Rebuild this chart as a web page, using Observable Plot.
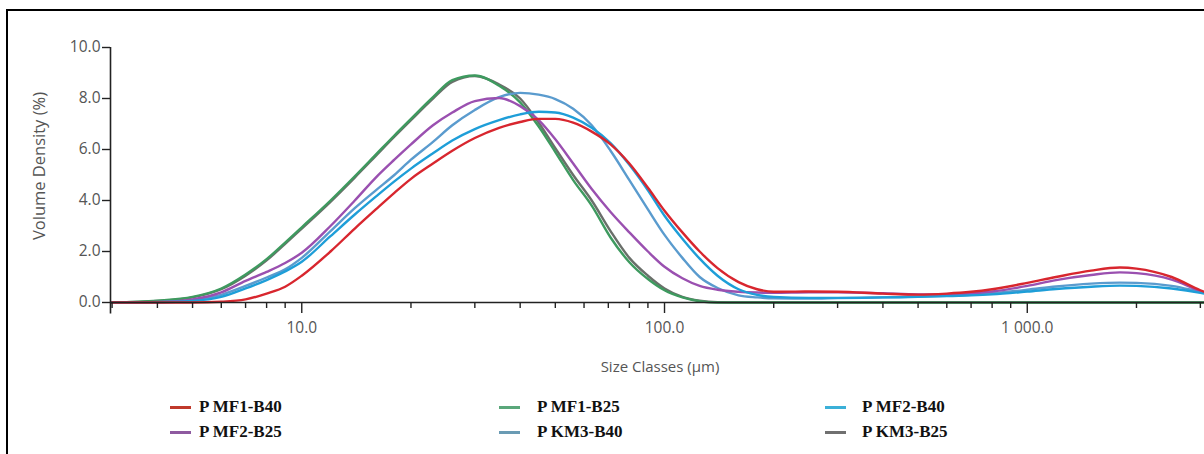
<!DOCTYPE html>
<html><head><meta charset="utf-8">
<script src="https://cdn.jsdelivr.net/npm/d3@7"></script>
<script src="https://cdn.jsdelivr.net/npm/@observablehq/plot@0.6"></script>
<style>
body{margin:0;background:#fff;width:1204px;height:454px;overflow:hidden;position:relative;font-family:"Open Sans",sans-serif}
#frame{position:absolute;left:6px;top:9px;width:1300px;height:500px;border-top:2px solid #000;border-left:2px solid #000}
#chart{position:absolute;left:0;top:0}
#ylabel{position:absolute;left:38px;top:166px;transform:translate(-50%,-50%) rotate(-90deg);font-size:16.5px;color:#555;white-space:nowrap}
#xlabel{position:absolute;left:660px;top:366px;transform:translate(-50%,-50%);font-size:15px;color:#555;white-space:nowrap}
.item{position:absolute;font-family:"Liberation Serif",serif;font-weight:bold;font-size:17px;color:#111;white-space:nowrap;line-height:20px}
.sw{position:absolute;width:21px;height:3px}
</style></head>
<body>
<div id="frame"></div>
<div id="chart"></div>
<div id="ylabel">Volume Density (%)</div>
<div id="xlabel">Size Classes (µm)</div>
<div id="legend"></div>
<script>
// size classes (µm)
const sizes = [3, 4, 5, 6, 7, 8, 9, 10, 12, 14, 16, 18, 20, 23, 26, 30, 35, 40, 45, 50, 56, 63, 71, 80, 90, 100, 112, 125, 140, 160, 180, 200, 250, 300, 400, 500, 600, 700, 800, 1000, 1200, 1500, 1800, 2000, 2500, 3000, 3100];
const seriesNames = ["P MF1-B40", "P MF1-B25", "P MF2-B40", "P MF2-B25", "P KM3-B40", "P KM3-B25"];
const seriesColors = ["#d8262e", "#3e9a5f", "#1e9ed8", "#9a50b0", "#5a9bce", "#6a6f6a"];
const legendColors = ["#c0392b", "#5aa77a", "#3bb0d8", "#8e5aa0", "#6a9bb4", "#707070"];
// volume density (%)
const mf1b40 = [0, 0, 0, 0.03, 0.12, 0.35, 0.62, 1.05, 2.0, 2.9, 3.65, 4.3, 4.85, 5.45, 5.95, 6.45, 6.85, 7.08, 7.2, 7.2, 7.05, 6.7, 6.2, 5.45, 4.5, 3.6, 2.75, 2.0, 1.35, 0.8, 0.52, 0.42, 0.43, 0.42, 0.35, 0.31, 0.35, 0.42, 0.52, 0.77, 1.0, 1.25, 1.37, 1.33, 1.0, 0.48, 0.4];
const mf1b25 = [0, 0.07, 0.22, 0.55, 1.1, 1.7, 2.35, 2.95, 4.0, 4.95, 5.8, 6.55, 7.2, 8.05, 8.72, 8.9, 8.5, 7.85, 6.9, 5.9, 4.8, 3.8, 2.55, 1.58, 0.92, 0.48, 0.2, 0.05, 0, 0, 0, 0, 0, 0, 0, 0, 0, 0, 0, 0, 0, 0, 0, 0, 0, 0, 0];
const mf2b40 = [0, 0.01, 0.06, 0.22, 0.55, 0.88, 1.22, 1.6, 2.6, 3.45, 4.15, 4.75, 5.25, 5.85, 6.35, 6.8, 7.15, 7.38, 7.48, 7.45, 7.25, 6.85, 6.25, 5.4, 4.4, 3.4, 2.5, 1.72, 1.05, 0.52, 0.3, 0.22, 0.18, 0.18, 0.2, 0.22, 0.25, 0.28, 0.32, 0.43, 0.53, 0.62, 0.66, 0.65, 0.55, 0.38, 0.34];
const mf2b25 = [0, 0.02, 0.12, 0.4, 0.85, 1.2, 1.55, 1.95, 3.0, 4.0, 4.9, 5.6, 6.2, 6.95, 7.45, 7.9, 8.02, 7.7, 7.15, 6.4, 5.45, 4.45, 3.55, 2.75, 2.0, 1.4, 0.95, 0.65, 0.5, 0.42, 0.39, 0.38, 0.4, 0.4, 0.36, 0.32, 0.32, 0.36, 0.43, 0.65, 0.88, 1.08, 1.18, 1.15, 0.9, 0.45, 0.38];
const km3b40 = [0, 0.01, 0.08, 0.3, 0.65, 0.98, 1.3, 1.75, 2.8, 3.7, 4.4, 5.0, 5.6, 6.3, 6.95, 7.55, 8.05, 8.22, 8.15, 7.98, 7.6, 6.95, 5.95, 4.8, 3.65, 2.65, 1.75, 1.0, 0.57, 0.28, 0.2, 0.16, 0.15, 0.17, 0.2, 0.23, 0.26, 0.3, 0.36, 0.5, 0.63, 0.74, 0.78, 0.77, 0.65, 0.42, 0.38];
const km3b25 = [0, 0.06, 0.2, 0.52, 1.05, 1.65, 2.3, 2.9, 3.95, 4.9, 5.75, 6.5, 7.15, 8.0, 8.65, 8.88, 8.55, 8.0, 7.05, 6.05, 5.0, 4.0, 2.8, 1.75, 1.05, 0.55, 0.22, 0.07, 0.01, 0, 0, 0, 0, 0, 0, 0, 0, 0, 0, 0, 0, 0, 0, 0, 0, 0, 0];
const minorTicks = [3, 4, 5, 6, 7, 8, 9, 20, 30, 40, 50, 60, 70, 80, 90, 200, 300, 400, 500, 600, 700, 800, 900, 2000, 3000];
const majorTicks = [10, 100, 1000];
const majorLabels = ["10.0", "100.0", "1 000.0"];
const yTicks = [0, 2, 4, 6, 8, 10];

const allSeries = [mf1b40, mf1b25, mf2b40, mf2b25, km3b40, km3b25];
const data = [];
allSeries.forEach((vals, i) => vals.forEach((v, j) => data.push({size: sizes[j], value: v, series: seriesNames[i]})));
// draw order: back to front
const order = ["P KM3-B25", "P MF1-B25", "P KM3-B40", "P MF2-B25", "P MF2-B40", "P MF1-B40"];
const xDom = [2.97, 3080];

const chart = Plot.plot({
  width: 1204, height: 345,
  marginLeft: 110, marginRight: 0, marginTop: 47, marginBottom: 43,
  style: {fontFamily: "Open Sans, sans-serif", fontSize: "15.5px", background: "transparent"},
  x: {type: "log", domain: xDom, axis: null},
  y: {domain: [0, 10], axis: null},
  color: {domain: seriesNames, range: seriesColors},
  marks: [
    ...order.map(name => Plot.line(data.filter(d => d.series === name), {x: "size", y: "value", stroke: "series", strokeWidth: 2.4, curve: "monotone-x"})),
    Plot.ruleY([0], {x1: xDom[0], x2: xDom[1], stroke: "#222", strokeWidth: 1.6}),
    Plot.ruleX([xDom[0]], {y1: -0.45, y2: 10, stroke: "#222", strokeWidth: 1.6}),
    Plot.axisX({ticks: minorTicks, tickSize: 6, tickFormat: () => "", label: null, stroke: "#222", strokeWidth: 1.4}),
    Plot.axisX({ticks: majorTicks, tickSize: 11, tickFormat: d => majorLabels[majorTicks.indexOf(d)], stroke: "#222", fill: "#555", strokeWidth: 1.4, tickPadding: 8, label: null}),
    Plot.axisY({ticks: yTicks, tickSize: 8, tickFormat: d => d.toFixed(1), stroke: "#222", fill: "#555", strokeWidth: 1.4, tickPadding: 2, label: null})
  ]
});
document.getElementById("chart").appendChild(chart);

const legend = document.getElementById("legend");
const swX = [170, 499, 825];
const txX = [199, 537, 862];
const rowY = [397, 422];
seriesNames.forEach((name, i) => {
  const c = i % 3, r = Math.floor(i / 3);
  const sw = document.createElement("div");
  sw.className = "sw";
  sw.style.left = swX[c] + "px";
  sw.style.top = (rowY[r] + 9) + "px";
  sw.style.background = legendColors[i];
  legend.appendChild(sw);
  const t = document.createElement("div");
  t.className = "item";
  t.style.left = txX[c] + "px";
  t.style.top = rowY[r] + "px";
  t.textContent = name;
  legend.appendChild(t);
});
</script>
</body></html>
